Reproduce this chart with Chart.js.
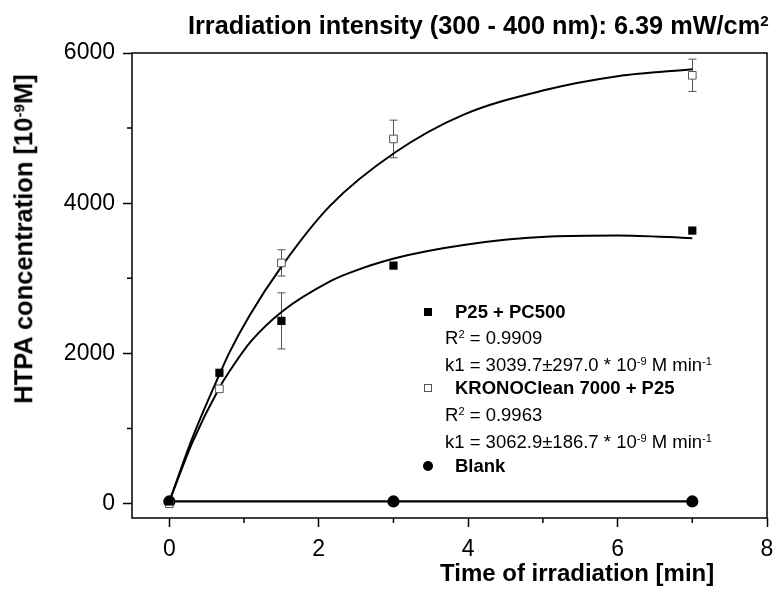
<!DOCTYPE html>
<html>
<head>
<meta charset="utf-8">
<script src="https://cdn.jsdelivr.net/npm/chart.js@4.4.1/dist/chart.umd.min.js"></script>
<style>
  body { margin: 0; background: #fff; }
  #wrap { position: relative; width: 776px; height: 592px; font-family: "Liberation Sans", Arial, sans-serif; color: #000; }
  canvas { position: absolute; left: 0; top: 0; }
  .txt { position: absolute; white-space: nowrap; line-height: 1; }
  .b { font-weight: bold; }
  sup { font-size: 0.6em; vertical-align: baseline; position: relative; top: -0.55em; line-height: 0; }
  .mk { position: absolute; box-sizing: border-box; }
</style>
</head>
<body>
<div id="wrap">
  <canvas id="chart" width="776" height="592"></canvas>

  <div class="txt b" style="left:188px; top:13px; font-size:25.3px;">Irradiation intensity (300 - 400 nm): 6.39 mW/cm<sup>2</sup></div>
  <div class="txt b" style="left:24px; top:239px; font-size:25.5px; transform: translate(-50%, -50%) rotate(-90deg);">HTPA concentration [10<sup>-9</sup>M]</div>
  <div class="txt b" style="left:440px; top:561px; font-size:24px;">Time of irradiation [min]</div>

  <div class="mk" style="left:424px; top:308px; width:8px; height:8px; background:#000;"></div>
  <div class="txt b" style="left:455px; top:303px; font-size:18.5px;">P25 + PC500</div>
  <div class="txt" style="left:445px; top:329px; font-size:18.5px;">R<sup>2</sup> = 0.9909</div>
  <div class="txt" style="left:445px; top:356px; font-size:18.5px;">k1 = 3039.7±297.0 * 10<sup>-9</sup> M min<sup>-1</sup></div>
  <div class="mk" style="left:424px; top:384px; width:8px; height:8px; border:1px solid #555; background:#fff;"></div>
  <div class="txt b" style="left:455px; top:379px; font-size:18.5px;">KRONOClean 7000 + P25</div>
  <div class="txt" style="left:445px; top:406px; font-size:18.5px;">R<sup>2</sup> = 0.9963</div>
  <div class="txt" style="left:445px; top:433px; font-size:18.5px;">k1 = 3062.9±186.7 * 10<sup>-9</sup> M min<sup>-1</sup></div>
  <div class="mk" style="left:423px; top:461px; width:10px; height:10px; border-radius:50%; background:#000;"></div>
  <div class="txt b" style="left:455px; top:457px; font-size:18.5px;">Blank</div>
</div>

<script>
// measured points (time in min, HTPA in 10^-9 M)
const timePoints = [0, 0.67, 1.5, 3, 7]
const p25Values = [30, 1743, 2434, 3170, 3636]
const p25Errors = [0, 0, 373, 0, 0]
const kronoValues = [0, 1530, 3206, 4856, 5703]
const kronoErrors = [0, 0, 175, 250, 215]

const blankTimes = [0, 3, 7]
const blankValues = [30, 30, 30]

// fitted curves
const p25FitTimes = [0, 0.31, 0.67, 0.85, 1.1, 1.51, 2.15, 2.42, 3.02, 3.94, 5.1, 6.0, 7.0]
const p25FitValues = [31, 820, 1545, 1830, 2170, 2560, 2960, 3077, 3268, 3445, 3556, 3570, 3535]
const kronoFitTimes = [0, 0.31, 0.67, 0.805, 1.07, 1.51, 2.15, 3.02, 3.94, 5.0, 6.0, 7.0]
const kronoFitValues = [31, 880, 1720, 2015, 2500, 3170, 3965, 4675, 5180, 5500, 5690, 5783]

const xTicks = [0, 2, 4, 6, 8]
const xMinorTicks = [1, 3, 5, 7]
const yTicks = [0, 2000, 4000, 6000]
const yMinorTicks = [1000, 3000, 5000]

function toPoints(xs, ys) {
    return xs.map((v, i) => ({ x: v, y: ys[i] }))
}

const errorBars = {
    id: "errorBars",
    beforeDatasetsDraw(chart) {
        const { ctx, scales: { x, y } } = chart
        ctx.save()
        ctx.strokeStyle = "#555"
        ctx.lineWidth = 1
        const sets = [[p25Values, p25Errors], [kronoValues, kronoErrors]]
        sets.forEach(([vals, errs]) => {
            vals.forEach((v, i) => {
                const e = errs[i]
                if (!e) return
                const px = Math.round(x.getPixelForValue(timePoints[i])) + 0.5
                const top = y.getPixelForValue(v + e)
                const bot = y.getPixelForValue(v - e)
                ctx.beginPath()
                ctx.moveTo(px, top)
                ctx.lineTo(px, bot)
                ctx.moveTo(px - 4, top)
                ctx.lineTo(px + 4, top)
                ctx.moveTo(px - 4, bot)
                ctx.lineTo(px + 4, bot)
                ctx.stroke()
            })
        })
        ctx.restore()
    }
}

const frame = {
    id: "frame",
    afterDraw(chart) {
        const { ctx, chartArea: a, scales: { x, y } } = chart
        ctx.save()
        ctx.strokeStyle = "#000"
        ctx.lineWidth = 1.5
        ctx.strokeRect(a.left, a.top, a.right - a.left, a.bottom - a.top)
        ctx.beginPath()
        xMinorTicks.forEach(v => {
            const px = x.getPixelForValue(v)
            ctx.moveTo(px, a.bottom)
            ctx.lineTo(px, a.bottom + 5)
        })
        yMinorTicks.forEach(v => {
            const py = y.getPixelForValue(v)
            ctx.moveTo(a.left, py)
            ctx.lineTo(a.left - 5, py)
        })
        ctx.stroke()
        ctx.restore()
    }
}

const tickFont = { family: "'Liberation Sans', Arial, sans-serif", size: 23 }

const chart = new Chart(document.getElementById("chart"), {
    type: "scatter",
    data: {
        datasets: [
            {
                label: "P25 + PC500",
                data: toPoints(timePoints, p25Values),
                pointStyle: "rect",
                pointRadius: 5.8,
                backgroundColor: "#000",
                borderColor: "#000",
                borderWidth: 0
            },
            {
                label: "KRONOClean 7000 + P25",
                data: toPoints(timePoints, kronoValues),
                pointStyle: "rect",
                pointRadius: 5.4,
                backgroundColor: "#fff",
                borderColor: "#555",
                borderWidth: 1
            },
            {
                label: "Blank",
                data: toPoints(blankTimes, blankValues),
                showLine: true,
                pointStyle: "circle",
                pointRadius: 5,
                backgroundColor: "#000",
                borderColor: "#000",
                borderWidth: 2.2
            },
            {
                label: "P25 fit",
                data: toPoints(p25FitTimes, p25FitValues),
                showLine: true,
                pointRadius: 0,
                borderColor: "#000",
                borderWidth: 2,
                cubicInterpolationMode: "monotone"
            },
            {
                label: "KRONOClean fit",
                data: toPoints(kronoFitTimes, kronoFitValues),
                showLine: true,
                pointRadius: 0,
                borderColor: "#000",
                borderWidth: 2,
                cubicInterpolationMode: "monotone"
            }
        ]
    },
    options: {
        responsive: false,
        animation: false,
        layout: { padding: { top: 53, right: 9, left: 0, bottom: 0 } },
        plugins: {
            legend: { display: false },
            tooltip: { enabled: false }
        },
        scales: {
            x: {
                type: "linear",
                min: -0.5,
                max: 8,
                afterBuildTicks: scale => { scale.ticks = xTicks.map(v => ({ value: v })) },
                afterFit: scale => {
                    scale.height = 74
                    scale.paddingLeft = 0
                    scale.paddingRight = 0
                },
                border: { display: false },
                grid: { drawOnChartArea: false, drawTicks: true, tickLength: 9, tickColor: "#000", tickWidth: 1.5 },
                ticks: { color: "#000", font: tickFont, padding: 9, maxRotation: 0, callback: v => String(v) }
            },
            y: {
                type: "linear",
                min: -190,
                max: 6000,
                afterBuildTicks: scale => { scale.ticks = yTicks.map(v => ({ value: v })) },
                afterFit: scale => {
                    scale.width = 132
                    scale.paddingTop = 0
                    scale.paddingBottom = 0
                },
                border: { display: false },
                grid: { drawOnChartArea: false, drawTicks: true, tickLength: 9, tickColor: "#000", tickWidth: 1.5 },
                ticks: { color: "#000", font: tickFont, padding: 8, callback: v => String(v) }
            }
        }
    },
    plugins: [errorBars, frame]
})
</script>
</body>
</html>
